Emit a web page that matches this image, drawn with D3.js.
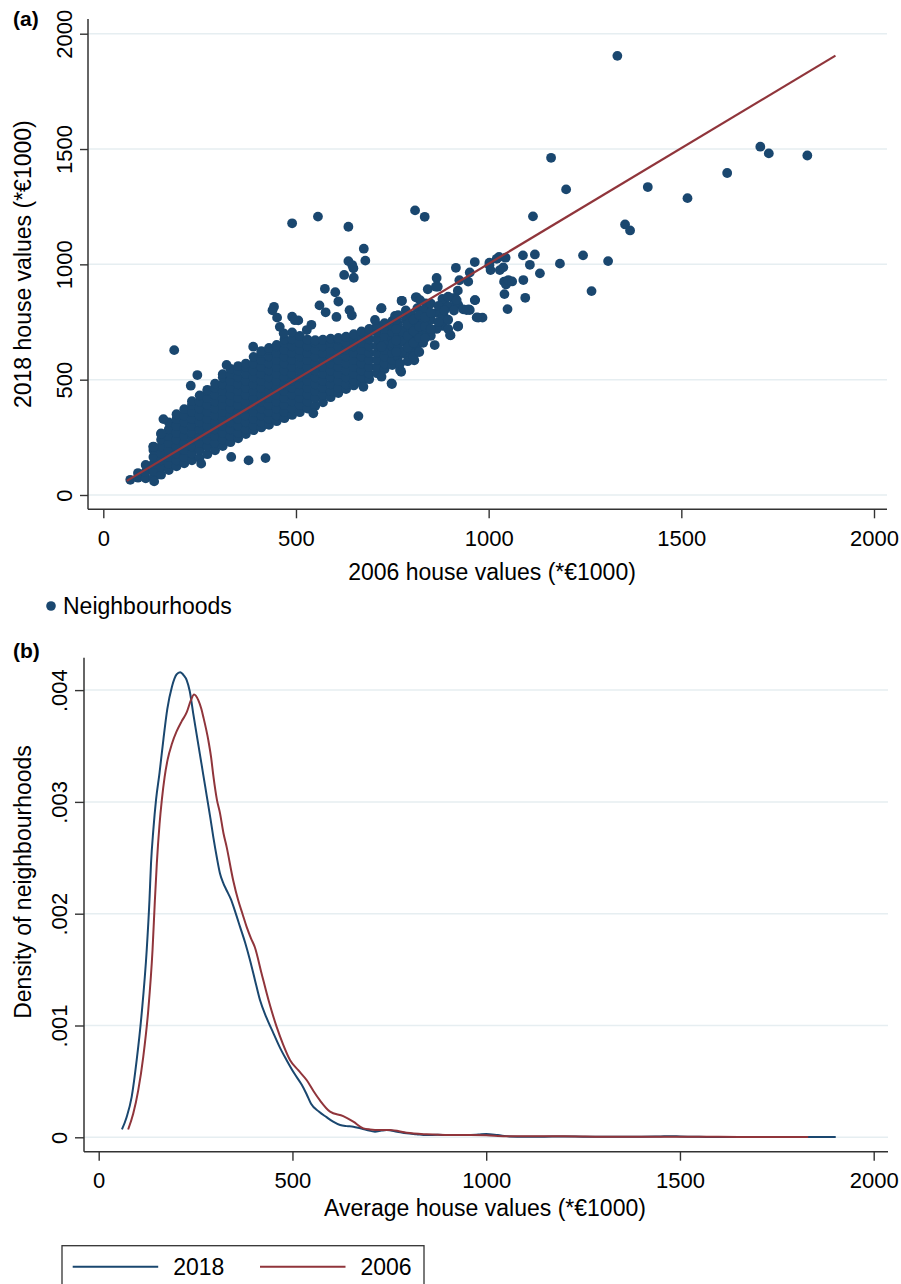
<!DOCTYPE html>
<html><head><meta charset="utf-8">
<script src="https://cdn.jsdelivr.net/npm/d3@7"></script>
<style>
body{margin:0;background:#fff;}
svg{display:block;font-family:"Liberation Sans",Arial,sans-serif;}
</style></head><body>
<svg id="c" width="901" height="1284"></svg>
<script>
// ---------- DATA ----------
// Panel (a): dense cloud, columns of 2006 values with the 2018 values read for each column
const cloud2006 = [70, 90, 110, 130, 150, 170, 190, 210, 230, 250, 270, 290, 310, 330, 350, 370, 390, 410, 430, 450, 470, 490, 510, 530, 550, 570, 590, 610, 630, 650, 670, 690, 710, 730, 750];
const cloud2018 = [
  [66],
  [75, 95],
  [72, 100, 130],
  [75, 105, 135, 165, 195, 210],
  [88, 120, 150, 180, 210, 240, 265],
  [108, 135, 165, 195, 225, 255, 285, 315],
  [124, 150, 180, 210, 240, 270, 300, 330, 350],
  [137, 165, 195, 225, 255, 285, 315, 345, 372],
  [150, 180, 210, 240, 270, 300, 330, 360, 390, 407],
  [161, 195, 225, 255, 285, 315, 345, 375, 405, 432],
  [177, 210, 240, 270, 300, 330, 360, 390, 420, 450, 456],
  [194, 225, 255, 285, 315, 345, 375, 405, 435, 465, 483],
  [212, 240, 270, 300, 330, 360, 390, 420, 450, 480, 510, 524],
  [229, 255, 285, 315, 345, 375, 405, 435, 465, 495, 525, 547],
  [246, 270, 300, 330, 360, 390, 420, 450, 480, 510, 540, 559],
  [264, 285, 315, 345, 375, 405, 435, 465, 495, 525, 555, 570],
  [281, 300, 330, 360, 390, 420, 450, 480, 510, 540, 570, 599],
  [293, 315, 345, 375, 405, 435, 465, 495, 525, 555, 585, 615, 624],
  [304, 330, 360, 390, 420, 450, 480, 510, 540, 570, 600, 630, 638],
  [320, 345, 375, 405, 435, 465, 495, 525, 555, 585, 615, 645, 651],
  [333, 360, 390, 420, 450, 480, 510, 540, 570, 600, 630, 660, 674],
  [347, 375, 405, 435, 465, 495, 525, 555, 585, 615, 645, 675, 705],
  [359, 390, 420, 450, 480, 510, 540, 570, 600, 630, 660, 690],
  [375, 405, 435, 465, 495, 525, 555, 585, 615, 645, 674],
  [386, 420, 450, 480, 510, 540, 570, 600, 630, 660, 671],
  [402, 435, 465, 495, 525, 555, 585, 615, 645, 673],
  [424, 450, 480, 510, 540, 570, 600, 630, 660, 678],
  [442, 465, 495, 525, 555, 585, 615, 645, 675, 681],
  [459, 480, 510, 540, 570, 600, 630, 660, 686],
  [475, 495, 525, 555, 585, 615, 645, 675, 697],
  [486, 510, 540, 570, 600, 630, 660, 690, 709],
  [502, 525, 555, 585, 615, 645, 675, 705, 720],
  [528, 555, 585, 615, 645, 675, 705, 736],
  [546, 570, 600, 630, 660, 690, 720, 745],
  [563, 585, 615, 645, 675, 705, 735, 755]
];
// Panel (a): individual neighbourhoods outside the dense cloud [2006, 2018]
const scattered = [
  [1334,1904],[1413,1335],[1516,1287],[1619,1396],[1705,1510],[1727,1481],[1827,1472],[1354,1173],[1367,1147],[1310,1014],
  [1162,1462],[1201,1325],[1115,1208],[834,1206],[809,1234],[1245,1039],[1120,1043],[1089,1039],[1044,1029],[1027,1032],
  [1185,1003],[1107,998],[1133,961],[1267,884],[964,1010],[915,985],[1002,996],[1005,975],[1029,975],[1038,987],
  [951,965],[865,941],[842,892],[868,903],[924,931],[947,925],[920,886],[913,853],[902,816],[921,824],
  [934,805],[948,805],[965,845],[1040,925],[1045,913],[1051,932],[1061,926],[1090,932],[1041,871],[1095,855],
  [1049,806],[973,769],[984,769],[920,730],[881,733],[901,692],[874,795],[884,773],[843,795],[837,831],
  [1002,1007],[1021,1024],
  [490,1178],[557,1207],[636,1163],[676,1068],[680,1016],[636,1014],[646,997],[649,983],[625,954],[650,942],
  [575,894],[602,879],[610,839],[561,822],[577,792],[605,772],[639,801],[645,779],[443,816],[439,801],
  [451,769],[490,773],[506,757],[540,738],[722,810],[775,842],[813,857],[184,628],[244,520],[227,474],
  [156,329],[130,209],[150,267],[320,564],[389,643],[468,701],[497,758],[528,715],[458,729],[908,853],
  [951,802],[889,821],[757,776],[705,759],[721,809],
  [332,165],[377,150],[421,160],[254,136],[132,59],[662,342],[545,354],[807,584],[773,534],[749,481],
  [844,701],[770,542],[748,484],[722,513],[675,469],[752,658],[722,643],[774,694],[813,672],[839,701],
  [843,788],[878,737],[900,694],[921,733],[943,802],[969,770],[964,845],[917,845],[891,822],[863,903],
  [811,857],[774,842],[830,715],[848,701],[822,845],[839,744],
  [765,600],[765,640],[765,690],[765,740],[765,780],[785,610],[785,660],[785,720],[785,760],[785,800],
  [800,630],[800,680],[800,740],[800,780],[815,650],[815,700],[815,760],[815,810],[830,660],[830,750],
  [830,800],[850,690],[850,760],[850,830],[865,720],[865,790],[880,770],[880,850],[895,760],[895,860],
  [790,580],[770,570],
  [775,620],[775,670],[775,710],[790,640],[790,690],[790,740],[805,600],[805,660],[805,710],[805,760],
  [820,620],[820,680],[820,730],[820,780],[835,680],[835,730],[835,770],[850,720],[850,790],[860,650],
  [870,750],[870,820],[885,800],[895,720],[910,800],[760,620],[760,670],[760,720],[760,760]
];
// Panel (a): fitted line end points [2006, 2018]
const fitLine = [[61, 61], [1900, 1905]];
const ticksA = [0, 500, 1000, 1500, 2000];

// Panel (b): kernel densities (density in units of 0.001)
const val2018 = [60,72,85,98,111,124,131,135,141,148,157,167,177,189,201,210,220,227,235,244,252,261,270,279,288,296,305,313,322,330,341,353,365,378,390,403,416,433,451,468,485,505,524,536,548,568,588,605,623,640,657,675,692,713,730,743,770,795,820,846,875,900,950,980,1000,1030,1060,1100,1150,1200,1250,1300,1350,1400,1450,1475,1500,1550,1600,1700,1800,1902];
const dens2018 = [0.07,0.18,0.36,0.69,1.11,1.68,2.12,2.45,2.75,3.02,3.26,3.56,3.83,4.03,4.14,4.16,4.13,4.09,3.99,3.79,3.62,3.43,3.24,3.05,2.86,2.68,2.50,2.36,2.27,2.21,2.13,2.01,1.88,1.74,1.59,1.41,1.23,1.07,0.93,0.80,0.69,0.57,0.47,0.39,0.30,0.23,0.18,0.14,0.11,0.10,0.095,0.08,0.065,0.05,0.06,0.065,0.05,0.036,0.028,0.02,0.022,0.02,0.02,0.025,0.03,0.02,0.008,0.005,0.006,0.008,0.006,0.005,0.004,0.005,0.008,0.01,0.007,0.004,0.003,0.003,0.002,0.002];
const val2006 = [76,89,102,115,128,139,145,150,157,163,170,178,189,201,214,227,238,246,257,265,270,283,290,296,305,313,322,330,347,360,371,382,393,403,420,438,459,476,494,515,537,555,571,597,631,657,683,700,726,752,795,846,907,960,1000,1050,1100,1200,1300,1400,1500,1600,1700,1831];
const dens2006 = [0.07,0.21,0.42,0.72,1.14,1.68,2.12,2.45,2.8,3.02,3.22,3.38,3.52,3.63,3.72,3.80,3.91,3.96,3.91,3.83,3.76,3.55,3.40,3.23,3.02,2.90,2.72,2.60,2.30,2.12,2.00,1.88,1.78,1.70,1.47,1.23,0.99,0.83,0.69,0.60,0.51,0.41,0.33,0.23,0.19,0.14,0.08,0.07,0.065,0.065,0.04,0.027,0.02,0.02,0.018,0.01,0.01,0.01,0.006,0.005,0.006,0.004,0.003,0.002];
const ticksBx = [0, 500, 1000, 1500, 2000];
const ticksBy = [0, 0.001, 0.002, 0.003, 0.004];
const seriesNames = ["2018", "2006"];

// ---------- STYLE ----------
const navy = "#1a476f", maroon = "#90353b", gridCol = "#e6eef1", axisCol = "#333";
const tickFont = 22, titleFont = 23;
const svg = d3.select("#c");

function styleAxis(g){
  g.select(".domain").remove();
  g.selectAll(".tick line").attr("stroke", axisCol).attr("stroke-width", 1.4);
  g.attr("font-family", null).attr("font-size", tickFont);
  g.selectAll(".tick text").attr("fill", "#000");
}

// ---------- PANEL (a) ----------
const A = {left: 88, right: 887, top: 19, bottom: 509.3};
const xA = d3.scaleLinear().domain([0, 2000]).range([103.3, 874]);
const yA = d3.scaleLinear().domain([0, 2000]).range([495, 33.7]);

svg.append("g").selectAll("line").data(ticksA).join("line")
  .attr("x1", A.left).attr("x2", A.right)
  .attr("y1", d => yA(d)).attr("y2", d => yA(d))
  .attr("stroke", gridCol).attr("stroke-width", 1.5);

const pts = [];
cloud2006.forEach((x, i) => cloud2018[i].forEach(y => pts.push([x, y])));
scattered.forEach(p => pts.push(p));

svg.append("g").selectAll("circle").data(pts).join("circle")
  .attr("cx", d => xA(d[0])).attr("cy", d => yA(d[1])).attr("r", 4.9)
  .attr("fill", navy);

svg.append("path").datum(fitLine)
  .attr("d", d3.line().x(d => xA(d[0])).y(d => yA(d[1])))
  .attr("stroke", maroon).attr("stroke-width", 2.2).attr("fill", "none");

const gxA = svg.append("g").attr("transform", `translate(0,${A.bottom})`)
  .call(d3.axisBottom(xA).tickValues(ticksA).tickSize(9).tickFormat(d3.format("d")));
styleAxis(gxA);
gxA.selectAll(".tick text").attr("y", 37).attr("dy", 0);

const gyA = svg.append("g").attr("transform", `translate(${A.left},0)`)
  .call(d3.axisLeft(yA).tickValues(ticksA).tickSize(8).tickFormat(d3.format("d")));
styleAxis(gyA);
gyA.selectAll(".tick text").attr("x", 0).attr("y", -16).attr("dy", 0)
  .attr("transform", "rotate(-90)").attr("text-anchor", "middle");

svg.append("line").attr("x1", A.left).attr("x2", A.right).attr("y1", A.bottom).attr("y2", A.bottom)
  .attr("stroke", axisCol).attr("stroke-width", 1.5);
svg.append("line").attr("x1", A.left).attr("x2", A.left).attr("y1", A.top).attr("y2", A.bottom)
  .attr("stroke", axisCol).attr("stroke-width", 1.5);

svg.append("text").attr("x", 492).attr("y", 580).attr("text-anchor", "middle")
  .attr("font-size", titleFont).text("2006 house values (*€1000)");
svg.append("text").attr("transform", `translate(31,${(A.top + A.bottom) / 2}) rotate(-90)`)
  .attr("text-anchor", "middle").attr("font-size", titleFont).text("2018 house values (*€1000)");
svg.append("text").attr("x", 13).attr("y", 26).attr("font-size", 21).attr("font-weight", "bold").text("(a)");

svg.append("circle").attr("cx", 51).attr("cy", 606).attr("r", 4.8).attr("fill", navy);
svg.append("text").attr("x", 63).attr("y", 614).attr("font-size", titleFont).text("Neighbourhoods");

// ---------- PANEL (b) ----------
const B = {left: 84, right: 888, top: 657.7, bottom: 1151.7};
const xB = d3.scaleLinear().domain([0, 2000]).range([98.7, 873.7]);
const yB = d3.scaleLinear().domain([0, 0.004]).range([1137.3, 690.1]);

svg.append("g").selectAll("line").data(ticksBy).join("line")
  .attr("x1", B.left).attr("x2", B.right)
  .attr("y1", d => yB(d)).attr("y2", d => yB(d))
  .attr("stroke", gridCol).attr("stroke-width", 1.5);

const line = d3.line().x(d => xB(d[0])).y(d => yB(d[1] / 1000)).curve(d3.curveMonotoneX);
const s2018 = val2018.map((v, i) => [v, dens2018[i]]);
const s2006 = val2006.map((v, i) => [v, dens2006[i]]);
svg.append("path").datum(s2018).attr("d", line).attr("fill", "none").attr("stroke", navy).attr("stroke-width", 2);
svg.append("path").datum(s2006).attr("d", line).attr("fill", "none").attr("stroke", maroon).attr("stroke-width", 2);

const gxB = svg.append("g").attr("transform", `translate(0,${B.bottom})`)
  .call(d3.axisBottom(xB).tickValues(ticksBx).tickSize(9).tickFormat(d3.format("d")));
styleAxis(gxB);
gxB.selectAll(".tick text").attr("y", 36).attr("dy", 0);

const gyB = svg.append("g").attr("transform", `translate(${B.left},0)`)
  .call(d3.axisLeft(yB).tickValues(ticksBy).tickSize(9)
    .tickFormat(d => d === 0 ? "0" : d3.format(".3f")(d).replace(/^0/, "")));
styleAxis(gyB);
gyB.selectAll(".tick text").attr("x", 0).attr("y", -17).attr("dy", 0)
  .attr("transform", "rotate(-90)").attr("text-anchor", "middle");

svg.append("line").attr("x1", B.left).attr("x2", B.right).attr("y1", B.bottom).attr("y2", B.bottom)
  .attr("stroke", axisCol).attr("stroke-width", 1.5);
svg.append("line").attr("x1", B.left).attr("x2", B.left).attr("y1", B.top).attr("y2", B.bottom)
  .attr("stroke", axisCol).attr("stroke-width", 1.5);

svg.append("text").attr("x", 485).attr("y", 1216).attr("text-anchor", "middle")
  .attr("font-size", titleFont).text("Average house values (*€1000)");
svg.append("text").attr("transform", `translate(31,882) rotate(-90)`)
  .attr("text-anchor", "middle").attr("font-size", titleFont).text("Density of neighbourhoods");
svg.append("text").attr("x", 13).attr("y", 658).attr("font-size", 21).attr("font-weight", "bold").text("(b)");

// legend (b)
svg.append("rect").attr("x", 62).attr("y", 1245.7).attr("width", 362).attr("height", 60)
  .attr("fill", "#fff").attr("stroke", axisCol).attr("stroke-width", 1.3);
const legItems = [{name: seriesNames[0], col: navy, x: 72.7}, {name: seriesNames[1], col: maroon, x: 260}];
const lg = svg.append("g").selectAll("g").data(legItems).join("g");
lg.append("line").attr("x1", d => d.x).attr("x2", d => d.x + 85.5)
  .attr("y1", 1266.7).attr("y2", 1266.7).attr("stroke", d => d.col).attr("stroke-width", 2);
lg.append("text").attr("x", d => d.x + 100.5).attr("y", 1275).attr("font-size", titleFont).text(d => d.name);
</script>
</body></html>
